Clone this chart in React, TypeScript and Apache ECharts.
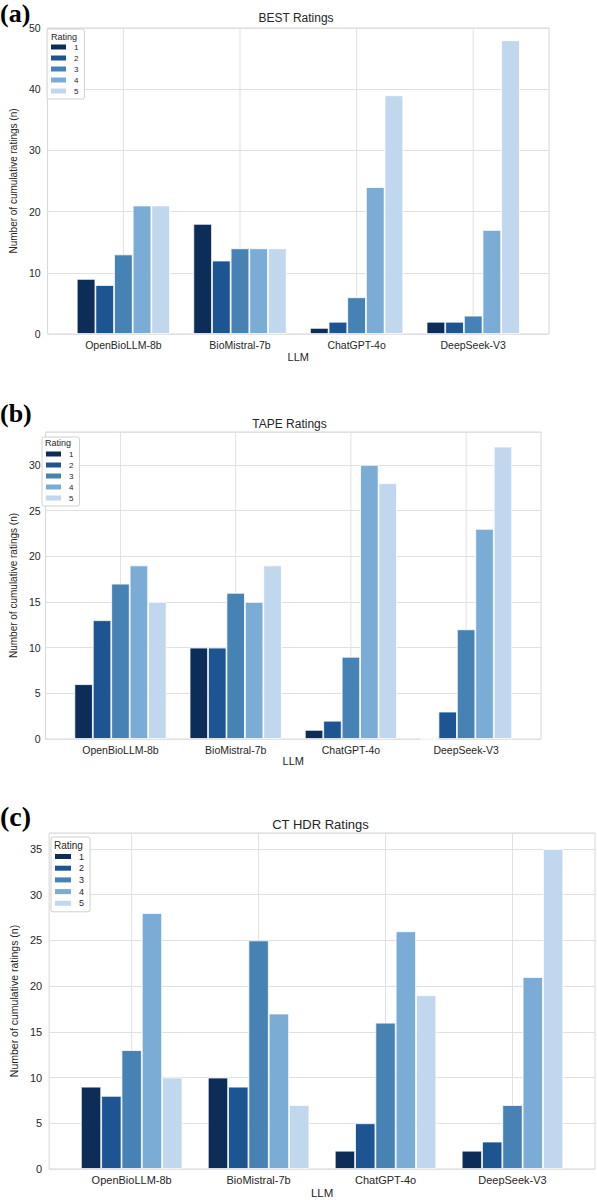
import React, { useEffect, useRef } from "react";
import * as echarts from "echarts";

const categories = ["OpenBioLLM-8b", "BioMistral-7b", "ChatGPT-4o", "DeepSeek-V3"];
const ratingNames = ["1", "2", "3", "4", "5"];

// values per rating (series), per LLM (category)
const bestRatings = [
  [9, 18, 1, 2],
  [8, 12, 2, 2],
  [13, 14, 6, 3],
  [21, 14, 24, 17],
  [21, 14, 39, 48],
];
const tapeRatings = [
  [6, 10, 1, 0],
  [13, 10, 2, 3],
  [17, 16, 9, 12],
  [19, 15, 30, 23],
  [15, 19, 28, 32],
];
const cthdrRatings = [
  [9, 10, 2, 2],
  [8, 9, 5, 3],
  [13, 25, 16, 7],
  [28, 17, 26, 21],
  [10, 7, 19, 35],
];

const panelTitles = ["BEST Ratings", "TAPE Ratings", "CT HDR Ratings"];
const panelLetters = ["(a)", "(b)", "(c)"];
const yMaxes = [50, 33.6, 36.75];
const yIntervals = [10, 5, 5];

const colors = ["#0d2d59", "#1c5591", "#4682b4", "#7aacd6", "#c0d7ee"];
const FONT = "'Liberation Sans', Arial, 'DejaVu Sans', sans-serif";
const TXT = "#262626";

type Layout = {
  left: number; top: number; width: number; height: number;
  fs: number; nameGapY: number; nameGapX: number; labelMarginY: number;
  legendLeft: number; legendTop: number; legendFs: number; legendGap: number;
  legendPad: number[]; itemW: number;
  ratingX: number; ratingY: number; ratingFs: number;
  titleY: number; titleFs: number;
  letterY: number; letterFs: number;
};

const layouts: Layout[] = [
  {
    left: 43, top: 28, width: 506, height: 306, fs: 10.5, nameGapY: 20, nameGapX: 17, labelMarginY: 7,
    legendLeft: 47, legendTop: 29, legendFs: 8, legendGap: 3, legendPad: [14, 6, 4, 4], itemW: 15,
    ratingX: 51, ratingY: 36.5, ratingFs: 9, titleY: 18, titleFs: 12, letterY: 13, letterFs: 26,
  },
  {
    left: 38, top: 432, width: 503, height: 307, fs: 10.5, nameGapY: 20, nameGapX: 16, labelMarginY: 5,
    legendLeft: 42, legendTop: 437, legendFs: 8, legendGap: 3, legendPad: [13, 6, 4, 4], itemW: 15,
    ratingX: 45, ratingY: 443, ratingFs: 9, titleY: 424, titleFs: 12, letterY: 413, letterFs: 26,
  },
  {
    left: 46, top: 833, width: 549, height: 336, fs: 11, nameGapY: 22, nameGapX: 18, labelMarginY: 7,
    legendLeft: 51, legendTop: 837, legendFs: 9, legendGap: 2.7, legendPad: [15, 6, 4, 4], itemW: 16,
    ratingX: 54, ratingY: 845, ratingFs: 10, titleY: 824, titleFs: 13, letterY: 816, letterFs: 28,
  },
];

const allData = [bestRatings, tapeRatings, cthdrRatings];

function buildOption() {
  const grid: any[] = [];
  const xAxis: any[] = [];
  const yAxis: any[] = [];
  const series: any[] = [];
  const legend: any[] = [];
  const graphic: any[] = [];

  layouts.forEach((L, p) => {
    grid.push({
      left: L.left, top: L.top, width: L.width, height: L.height,
      show: true, borderColor: "#d6d6d6", borderWidth: 1, backgroundColor: "#ffffff",
      containLabel: false,
    });
    xAxis.push({
      type: "value", gridIndex: p, min: -0.65, max: 3.65,
      name: "LLM", nameLocation: "middle", nameGap: L.nameGapX,
      nameTextStyle: { fontFamily: FONT, fontSize: L.fs + 0.5, color: TXT },
      axisLine: { show: false }, axisTick: { show: false }, splitLine: { show: false },
      axisLabel: {
        customValues: [0, 1, 2, 3],
        formatter: (v: number) => categories[Math.round(v)] ?? "",
        fontFamily: FONT, fontSize: L.fs, color: TXT, margin: 5,
      },
    });
    yAxis.push({
      type: "value", gridIndex: p, min: 0, max: yMaxes[p], interval: yIntervals[p],
      name: "Number of cumulative ratings (n)", nameLocation: "middle", nameGap: L.nameGapY,
      nameTextStyle: { fontFamily: FONT, fontSize: L.fs - 0.5, color: TXT },
      axisLine: { show: false }, axisTick: { show: false },
      splitLine: { show: true, lineStyle: { color: "#e1e1e1", width: 1 } },
      axisLabel: {
        formatter: (v: number) => (Math.abs(v % yIntervals[p]) < 1e-6 ? String(v) : ""),
        fontFamily: FONT, fontSize: L.fs, color: TXT, margin: L.labelMarginY,
      },
    });
    series.push({
      type: "custom", name: "vgrid" + p, xAxisIndex: p, yAxisIndex: p, z: 1, silent: true,
      data: categories.map((_, i) => [i, 0]),
      renderItem: (params: any, api: any) => {
        const x = api.coord([api.value(0), 0])[0];
        const cs = params.coordSys;
        return {
          type: "line",
          shape: { x1: x, y1: cs.y, x2: x, y2: cs.y + cs.height },
          style: { stroke: "#e1e1e1", lineWidth: 1 },
        };
      },
    });
    allData[p].forEach((vals, r) => {
      series.push({
        type: "bar", name: ratingNames[r], xAxisIndex: p, yAxisIndex: p, z: 2,
        barGap: "0%", barCategoryGap: "20%",
        data: vals.map((v, i) => [i, v]),
        itemStyle: { color: colors[r], borderColor: "#ffffff", borderWidth: 0.8 },
      });
    });
    legend.push({
      data: ratingNames, orient: "vertical", left: L.legendLeft, top: L.legendTop,
      padding: L.legendPad, itemWidth: L.itemW, itemHeight: 5, itemGap: L.legendGap,
      icon: "rect", selectedMode: false,
      itemStyle: { borderWidth: 0 },
      textStyle: { fontFamily: FONT, fontSize: L.legendFs, color: TXT, padding: [0, 0, 0, 3] },
      backgroundColor: "rgba(255,255,255,0.85)", borderColor: "#d0d0d0", borderWidth: 1, borderRadius: 2,
      z: 10,
    });
    graphic.push({
      type: "text", x: L.ratingX, y: L.ratingY, z: 20,
      style: { text: "Rating", fontFamily: FONT, fontSize: L.ratingFs, fill: TXT, verticalAlign: "middle", align: "left" },
    });
    graphic.push({
      type: "text", x: L.left + L.width / 2, y: L.titleY, z: 20,
      style: { text: panelTitles[p], fontFamily: FONT, fontSize: L.titleFs, fill: TXT, verticalAlign: "middle", align: "center" },
    });
    graphic.push({
      type: "text", x: 0, y: L.letterY, z: 20,
      style: {
        text: panelLetters[p], fontFamily: "'Liberation Serif', 'Times New Roman', serif",
        fontWeight: "bold", fontSize: L.letterFs, fill: "#000000", verticalAlign: "middle", align: "left",
      },
    });
  });

  return {
    animation: false,
    backgroundColor: "#ffffff",
    grid, xAxis, yAxis, series, legend, graphic,
  };
}

export default function App() {
  const ref = useRef<HTMLDivElement>(null);
  useEffect(() => {
    if (!ref.current) return;
    const chart = echarts.init(ref.current, undefined, { renderer: "svg" });
    chart.setOption(buildOption() as any);
    return () => chart.dispose();
  }, []);
  return (
    <div
      ref={ref}
      style={{ position: "absolute", left: 0, top: 0, width: 597, height: 1200, background: "#fff" }}
    />
  );
}
